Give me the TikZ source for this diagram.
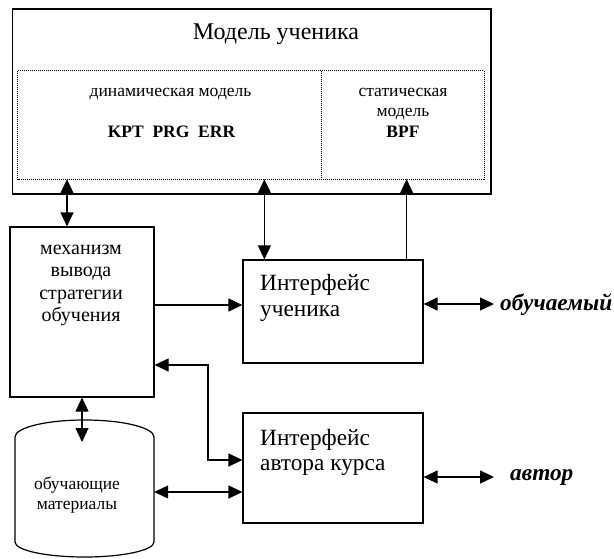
\documentclass[tikz,border=0pt]{standalone}
\usepackage{fontspec}
\setmainfont{Liberation Serif}
\usetikzlibrary{arrows.meta}
\newcommand{\fT}{\fontsize{24}{28}\selectfont}
\newcommand{\fS}{\fontsize{17.5}{21}\selectfont}
\newcommand{\fM}{\fontsize{20}{22.5}\selectfont}
\newcommand{\fI}{\fontsize{23.3}{25.5}\selectfont}
\newcommand{\fB}{\fontsize{23.3}{26}\selectfont\bfseries\itshape}
\begin{document}
\begin{tikzpicture}[x=1pt,y=-1pt,
  outerbox/.style={draw, line width=1.7pt, inner sep=0pt},
  box/.style={draw, line width=1.2pt, inner sep=0pt},
  area/.style={inner sep=0pt},
  dotline/.style={line width=1pt, dash pattern=on 1pt off 1pt},
  txt/.style={inner sep=0pt, anchor=base},
  ltxt/.style={inner sep=0pt, anchor=base west},
  tip/.tip={Triangle[length=14pt,width=13pt]},
  arr/.style={line width=1.2pt, -tip},
  dbl/.style={line width=1.2pt, tip-tip},
  plain/.style={line width=1.2pt}]
\useasboundingbox (0,0) rectangle (614,558);

% student model
\node[outerbox, minimum width=478.5pt, minimum height=185pt] (model) at (251.75,101.5) {};
\node[area, minimum width=304pt, minimum height=108pt] (dyn) at (170,125) {};
\node[area, minimum width=162pt, minimum height=108pt] (stat) at (403,125) {};
\draw[dotline] (dyn.north west) rectangle (stat.south east);
\draw[dotline] (stat.north west) -- (stat.south west);
\node[txt, font=\fT] (title) at (276,39) {Модель ученика};
\node[txt, font=\fS] (dyntxt) at (170.5,96) {динамическая модель};
\node[txt, font=\fS\bfseries] (vars) at (171.5,137) {KPT\ \ PRG\ \ ERR};
\node[txt, font=\fS] (st1) at (403,96) {статическая};
\node[txt, font=\fS] (st2) at (403,116) {модель};
\node[txt, font=\fS\bfseries] (bpf) at (403,137) {BPF};

% mechanism
\node[box, minimum width=144pt, minimum height=170pt] (mech) at (82,312) {};
\node[txt, font=\fM] (m1) at (81,254) {механизм};
\node[txt, font=\fM] (m2) at (81,276.5) {вывода};
\node[txt, font=\fM] (m3) at (81,299) {стратегии};
\node[txt, font=\fM] (m4) at (81,321.5) {обучения};

% interfaces
\node[box, minimum width=180pt, minimum height=103pt] (ui) at (333,311.5) {};
\node[ltxt, font=\fI] (u1) at (260,290) {Интерфейс};
\node[ltxt, font=\fI] (u2) at (260,316) {ученика};
\node[box, minimum width=180pt, minimum height=110pt] (ai) at (333,468) {};
\node[ltxt, font=\fI] (a1) at (260,445) {Интерфейс};
\node[ltxt, font=\fI] (a2) at (260,470) {автора курса};

% cylinder
\node[area, minimum width=139pt, minimum height=137pt] (cyl) at (84.5,488.5) {};
\draw[plain] (15,437) .. controls (15,427.6) and (46.1,420) .. (84.5,420)
  .. controls (122.9,420) and (154,427.6) .. (154,437) -- (154,542)
  .. controls (154,550.3) and (122.9,557) .. (84.5,557)
  .. controls (46.1,557) and (15,550.3) .. (15,542) -- cycle;
\coordinate (cylin) at (83,442);
\node[txt, font=\fS] (c1) at (77,489) {обучающие};
\node[txt, font=\fS] (c2) at (77,509) {материалы};

% actors
\node[ltxt, font=\fB] (learner) at (500,310) {обучаемый};
\node[ltxt, font=\fB] (author) at (510,480) {автор};

% connection points
\coordinate (pa) at ([xshift=-15pt]mech.north);
\coordinate (pb) at ([xshift=22pt]ui.north west);
\coordinate (pc) at ([xshift=-17pt]ui.north east);
\coordinate (pd) at ([yshift=6.5pt]ui.west);
\coordinate (pe) at ([yshift=7.5pt]ui.east);
\coordinate (pf) at ([yshift=-53pt]mech.east);
\coordinate (pg) at ([yshift=8pt]ai.west);
\coordinate (ph) at ([yshift=-24pt]ai.west);
\coordinate (pi) at ([yshift=-9pt]ai.east);
\coordinate (loopx) at (208,400);

% connectors
\draw[dbl] (pa |- dyn.south) -- (pa);
\draw[dbl] (pb |- dyn.south) -- (pb);
\draw[arr] (pc) -- (pc |- stat.south);
\draw[arr] (mech.east |- pd) -- (pd);
\draw[dbl, shorten >=6pt] (pe) -- (learner.west |- pe);
\draw[dbl] (pf) -- (pf -| loopx) -- (pg -| loopx) -- (pg);
\draw[dbl] (mech.south) -- (mech.south |- cylin);
\draw[dbl] (cyl.east |- ph) -- (ph);
\draw[dbl, shorten >=16pt] (pi) -- (author.west |- pi);
\end{tikzpicture}
\end{document}
